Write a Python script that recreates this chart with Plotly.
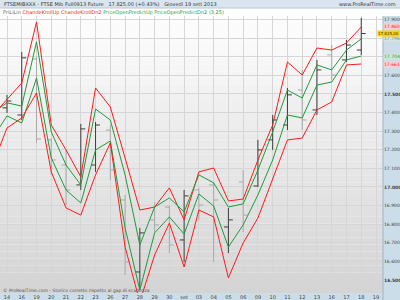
import plotly.graph_objects as go

# ---------------- data ----------------
axis_labels = ["14", "16", "19", "20", "21", "22", "23", "26", "27", "28", "29", "30", "set",
               "03", "04", "05", "06", "09", "10", "11", "12", "13", "16", "17", "18", "19"]
bar_pos = list(range(-1, 25))  # 13 ago .. 18 set

opens = [17360, 17425, 17387, 17688, 17253, 17118, 17011, 17118, 17306, 16930, 16543, 16823, 16892,
         16715, 16984, 17011, 16785, 17027, 17005, 17253, 17333, 17521, 17414, 17710, 17683, 17736]
highs = [17441, 17495, 17726, 17700, 17263, 17199, 17339, 17349, 17333, 16957, 16780, 16919, 16900,
         16984, 16995, 17027, 16887, 17091, 17253, 17387, 17532, 17629, 17683, 17763, 17790, 17909]
lows = [17333, 17398, 17360, 17237, 17065, 16903, 16984, 17081, 17038, 16527, 16460, 16758, 16645,
        16597, 16823, 16597, 16645, 16758, 17000, 17199, 17306, 17306, 17387, 17575, 17672, 17710]
closes = [17425, 17462, 17694, 17258, 17145, 16984, 17312, 17333, 17091, 16597, 16753, 16796, 16688,
          16952, 16903, 16930, 16823, 16849, 17199, 17360, 17495, 17360, 17629, 17602, 17763, 17825]

red_up = [17382, 17468, 17559, 17887, 17333, 17199, 17054, 17532, 17430, 17156, 16876, 16892, 16995,
          16823, 17081, 17102, 16925, 16935, 17145, 17333, 17672, 17602, 17747, 17736, 17774, 17860]
green_up = [17398, 17452, 17435, 17780, 17296, 17118, 17011, 17419, 17360, 17065, 16688, 16892, 16941,
            16866, 17065, 17022, 16892, 16909, 17091, 17296, 17521, 17478, 17656, 17629, 17736, 17796]
green_dn = [17258, 17382, 17344, 17586, 17156, 16984, 16914, 17199, 17247, 16780, 16446, 16753, 16839,
            16747, 16962, 16898, 16677, 16796, 16957, 17145, 17387, 17371, 17548, 17564, 17683, 17704]
red_dn = [17113, 17317, 17371, 17505, 17081, 16887, 16849, 17065, 17237, 16677, 16382, 16634, 16806,
          16570, 16876, 16839, 16511, 16699, 16833, 17048, 17253, 17263, 17414, 17457, 17656, 17661]

y_ticks = list(range(16500, 18000, 100))

# ---------------- figure ----------------
FONT = "DejaVu Sans"
RED = "#ff1a1a"
GREEN = "#1f9a3c"
PANEL = "#cadde9"

fig = go.Figure()

fig.add_trace(go.Ohlc(
    x=bar_pos, open=opens, high=highs, low=lows, close=closes,
    increasing=dict(line=dict(color="#3c3c3c", width=1)),
    decreasing=dict(line=dict(color="#a9a9a9", width=1)),
    tickwidth=0.3, hoverinfo="skip", showlegend=False))

for vals, col in [(red_up, RED), (green_up, GREEN), (green_dn, GREEN), (red_dn, RED)]:
    fig.add_trace(go.Scatter(x=bar_pos, y=vals, mode="lines",
                             line=dict(color=col, width=1), hoverinfo="skip",
                             showlegend=False))

W, H = 400, 300
ML, MR, MT, MB = 0, 17, 16, 7
pw, ph = W - ML - MR, H - MT - MB
xr = 1 + MR / pw  # paper x of figure's right edge

shapes = []
# gradient plot background
n = 40
for k in range(n):
    t = k / (n - 1)
    g = int(round(253 - (253 - 212) * t))
    shapes.append(dict(type="rect", xref="paper", yref="paper", x0=0, x1=1,
                       y0=1 - (k + 1) / n, y1=1 - k / n, line=dict(width=0),
                       fillcolor=f"rgb({g},{g},{g})", layer="below"))
# right axis panel
shapes.append(dict(type="rect", xref="paper", yref="paper", x0=1, x1=xr + 0.01,
                   y0=-MB / ph - 0.01, y1=1, line=dict(width=0), fillcolor=PANEL, layer="below"))
# bottom axis strip
shapes.append(dict(type="rect", xref="paper", yref="paper", x0=0, x1=1,
                   y0=-MB / ph - 0.01, y1=0, line=dict(width=0), fillcolor=PANEL, layer="below"))
# title bar
shapes.append(dict(type="rect", xref="paper", yref="paper", x0=0, x1=xr + 0.01,
                   y0=1 + 8 / ph, y1=1 + MT / ph + 0.01, line=dict(width=0),
                   fillcolor="#d9e6ef", layer="below"))
shapes.append(dict(type="line", xref="paper", yref="paper", x0=0, x1=xr + 0.01,
                   y0=1 + 8 / ph, y1=1 + 8 / ph, line=dict(width=1, color="#b8c8d4")))
# panel border
shapes.append(dict(type="line", xref="paper", yref="paper", x0=1, x1=1, y0=-MB / ph, y1=1,
                   line=dict(width=1, color="#9fb3c0")))

annotations = []
title_txt = ("FTSEMIBXXX - FTSE Mib Full0913 Future &nbsp; 17.825,00 (+0.43%) &nbsp; "
             "Giovedì 19 sett 2013")
annotations.append(dict(x=0.005, y=1 + 12 / ph, xref="paper", yref="paper", text=title_txt,
                        showarrow=False, xanchor="left", yanchor="middle",
                        font=dict(family=FONT, size=5, color="#333333")))
annotations.append(dict(x=xr - 0.005, y=1 + 12 / ph, xref="paper", yref="paper",
                        text="www.ProRealTime.com", showarrow=False, xanchor="right",
                        yanchor="middle", font=dict(family=FONT, size=5, color="#333333")))
ind_txt = (f"<span style='color:#666'>PriLiLin</span> "
           f"<span style='color:{RED}'>ChandeKrollUp ChandeKrollDn2</span> "
           f"<span style='color:{GREEN}'>PriceOpenPredictUp PriceOpenPredictDn2 (3,25)</span>")
annotations.append(dict(x=0.003, y=1 + 4 / ph, xref="paper", yref="paper", text=ind_txt,
                        showarrow=False, xanchor="left", yanchor="middle",
                        font=dict(family=FONT, size=5, color="#666666")))
annotations.append(dict(x=0.003, y=3 / ph, xref="paper", yref="paper",
                        text="© ProRealTime.com - Storico corretto rispetto al gap di scadenza",
                        showarrow=False, xanchor="left", yanchor="middle",
                        font=dict(family=FONT, size=4.5, color="#555555")))


def itfmt(v, dec=False):
    s = f"{int(round(v)):,}".replace(",", ".")
    return s + ",00" if dec else s


for vals, fc, bg in [(red_up, RED, "#f6d4d4"), (green_up, "#6a9a7a", "#d9e3dd"),
                     (green_dn, GREEN, "#d2e6d8"), (red_dn, RED, "#f6d4d4")]:
    annotations.append(dict(x=1, y=vals[-1], xref="paper", yref="y", text=itfmt(vals[-1]),
                            showarrow=False, xanchor="left", yanchor="middle", bgcolor=bg,
                            borderpad=0, font=dict(family=FONT, size=4.5, color=fc)))
annotations.append(dict(x=xr, y=closes[-1], xref="paper", yref="y", text=itfmt(closes[-1], True),
                        showarrow=False, xanchor="right", yanchor="middle", bgcolor="#ffd200",
                        borderpad=0, font=dict(family=FONT, size=4, color="#333333")))

y_text = [("<b>" + itfmt(v) + "</b>") if v % 500 == 0 else itfmt(v) for v in y_ticks]

x0 = -7 / 14.76
x1 = x0 + pw / 14.76
fig.update_layout(
    width=W, height=H, margin=dict(l=ML, r=MR, t=MT, b=MB, pad=0),
    paper_bgcolor="white", plot_bgcolor="rgba(0,0,0,0)",
    shapes=shapes, annotations=annotations, hovermode=False,
    xaxis=dict(range=[x0, x1], tickmode="array", tickvals=list(range(len(axis_labels))),
               ticktext=axis_labels, showgrid=True, gridcolor="#d6d6d6", gridwidth=1,
               zeroline=False, showline=False, ticks="", ticklen=0,
               tickfont=dict(family=FONT, size=5, color="#444444"),
               rangeslider=dict(visible=False), fixedrange=True),
    yaxis=dict(range=[16430, 17919], side="right", tickmode="array", tickvals=y_ticks,
               ticktext=y_text, showgrid=True, gridcolor="#d6d6d6", gridwidth=1,
               zeroline=False, showline=False, ticks="", ticklen=0,
               tickfont=dict(family=FONT, size=4.5, color="#444444"), fixedrange=True),
)

fig.write_html("out.html", config={"displayModeBar": False})
